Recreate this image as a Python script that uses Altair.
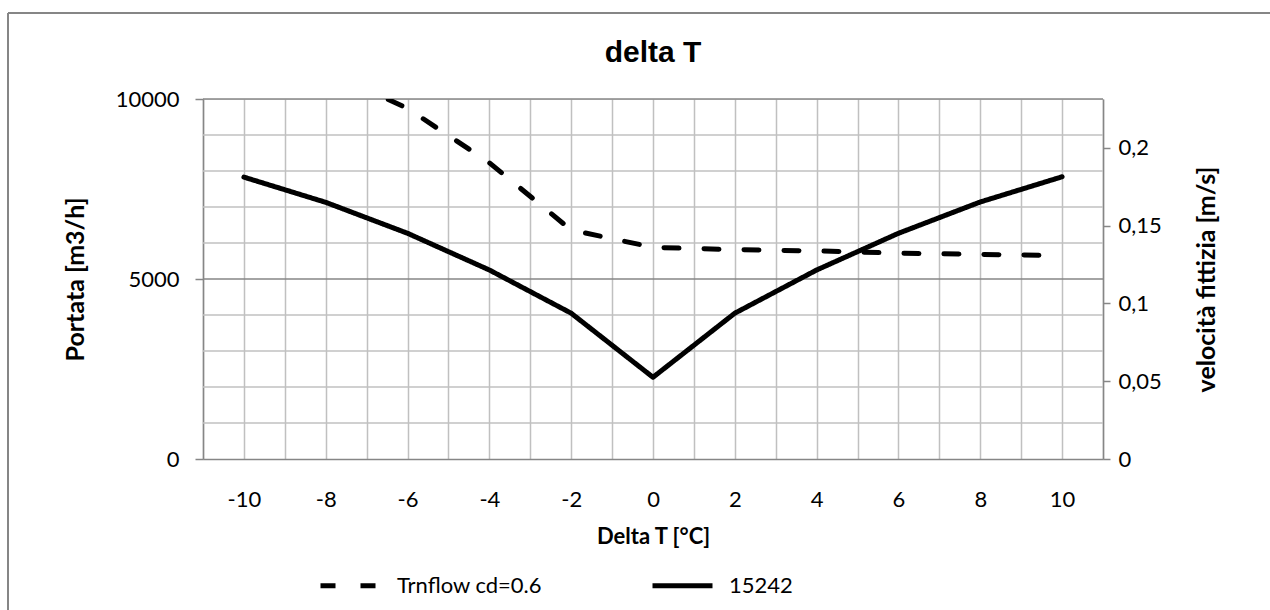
import altair as alt
import pandas as pd

# ---- data ----
delta_t = [-10, -8, -6, -4, -2, 0, 2, 4, 6, 8, 10]
trnflow = [11900, 10780, 9740, 8230, 6360, 5880, 5815, 5780, 5720, 5685, 5650]
s15242 = [7830, 7130, 6270, 5250, 4050, 2270, 4050, 5250, 6270, 7140, 7840]
series_names = ["Trnflow cd=0.6", "15242"]

left_ticks = [0, 5000, 10000]
minor_grid = [1000, 2000, 3000, 4000, 6000, 7000, 8000, 9000]
major_grid = [5000, 10000]
x_grid = list(range(-11, 12))
right_ticks = [0, 0.05, 0.1, 0.15, 0.2]
right_max = 10000 / 43200

FONT = "Lato"
AXIS_GRAY = "#868686"
GRID_GRAY = "#c0c0c0"

rows = []
for i, t in enumerate(delta_t):
    rows.append({"dt": t, "val": trnflow[i], "serie": series_names[0]})
    rows.append({"dt": t, "val": s15242[i], "serie": series_names[1]})
df = pd.DataFrame(rows)

xscale = alt.Scale(domain=[-11, 11], nice=False, zero=False)
yscale = alt.Scale(domain=[0, 10000], nice=False)

left_axis = alt.Axis(
    values=left_ticks, grid=False, tickSize=8, tickColor=AXIS_GRAY, tickWidth=1.5,
    domainColor=AXIS_GRAY, domainWidth=1.5, format="d",
    labelFont=FONT, labelFontSize=22, labelColor="black", labelPadding=16,
    title="Portata [m3/h]", titleFont=FONT, titleFontSize=25,
    titleFontWeight="bold", titleColor="black", titlePadding=27,
)

x_enc = alt.X(
    "dt:Q", scale=xscale,
    axis=alt.Axis(
        values=x_grid, grid=True, gridColor=GRID_GRAY, gridWidth=1.5,
        ticks=False, domainColor=AXIS_GRAY, domainWidth=1.5,
        labelExpr="datum.value % 2 == 0 ? '' + datum.value : ''",
        labelFont=FONT, labelFontSize=22, labelColor="black", labelPadding=30,
        title="Delta T [°C]", titleFont=FONT, titleFontSize=22, titleFontWeight="bold",
        titleColor="black", titlePadding=16,
    ),
)

minor = alt.Chart(pd.DataFrame({"val": minor_grid})).mark_rule(
    color=GRID_GRAY, strokeWidth=1.5
).encode(y=alt.Y("val:Q", scale=yscale, axis=left_axis))

major = alt.Chart(pd.DataFrame({"val": major_grid})).mark_rule(
    color=AXIS_GRAY, strokeWidth=1.5
).encode(y=alt.Y("val:Q", scale=yscale, axis=left_axis))

lines = alt.Chart(df).mark_line(
    color="black", strokeWidth=5, clip=True, strokeCap="round", strokeJoin="round"
).encode(
    x=x_enc,
    y=alt.Y("val:Q", scale=yscale, axis=left_axis),
    strokeDash=alt.StrokeDash(
        "serie:N",
        scale=alt.Scale(domain=series_names, range=[[15, 25], [1, 0]]),
        sort=series_names,
        legend=alt.Legend(
            title=None, orient="none", legendX=115, legendY=454, direction="horizontal",
            symbolType="stroke", symbolSize=3600, symbolStrokeWidth=5,
            symbolStrokeColor="black", labelFont=FONT, labelFontSize=22,
            labelColor="black", labelOffset=14, columnPadding=99,
        ),
    ),
    detail="serie:N",
)

frame_top = alt.Chart(pd.DataFrame({"a": [0]})).mark_rule(
    color=AXIS_GRAY, strokeWidth=2
).encode(x=alt.value(-195), x2=alt.value(1200), y=alt.value(-86))
frame_left = alt.Chart(pd.DataFrame({"a": [0]})).mark_rule(
    color=AXIS_GRAY, strokeWidth=2
).encode(x=alt.value(-195), y=alt.value(-86), y2=alt.value(600))

left_layer = alt.layer(minor, major, lines, frame_top, frame_left)

right = alt.Chart(pd.DataFrame({"v": right_ticks})).mark_point(opacity=0).encode(
    y=alt.Y(
        "v:Q", scale=alt.Scale(domain=[0, right_max], nice=False),
        axis=alt.Axis(
            orient="right", values=right_ticks, grid=False, tickSize=7, format="~g",
            tickColor=AXIS_GRAY, tickWidth=1.5, domainColor=AXIS_GRAY, domainWidth=1.5,
            labelExpr="replace(datum.label, '.', ',')",
            labelFont=FONT, labelFontSize=22, labelColor="black", labelPadding=8,
            title="velocità fittizia [m/s]", titleFont=FONT, titleFontSize=25,
            titleFontWeight="bold", titleColor="black", titlePadding=58,
            titleAngle=270, titleBaseline="bottom",
        ),
    ),
)

chart = alt.layer(left_layer, right).resolve_scale(y="independent").properties(
    width=900, height=360,
    title=alt.TitleParams(
        "delta T", font="Liberation Sans", fontSize=30, fontWeight="bold",
        color="black", anchor="middle", offset=-56,
    ),
    autosize=alt.AutoSizeParams(type="none"),
    padding={"left": 203, "top": 99, "right": 167, "bottom": 151},
).configure_view(stroke=None).configure(background="white")

chart.save("out.html", embed_options={"renderer": "svg", "actions": False})
